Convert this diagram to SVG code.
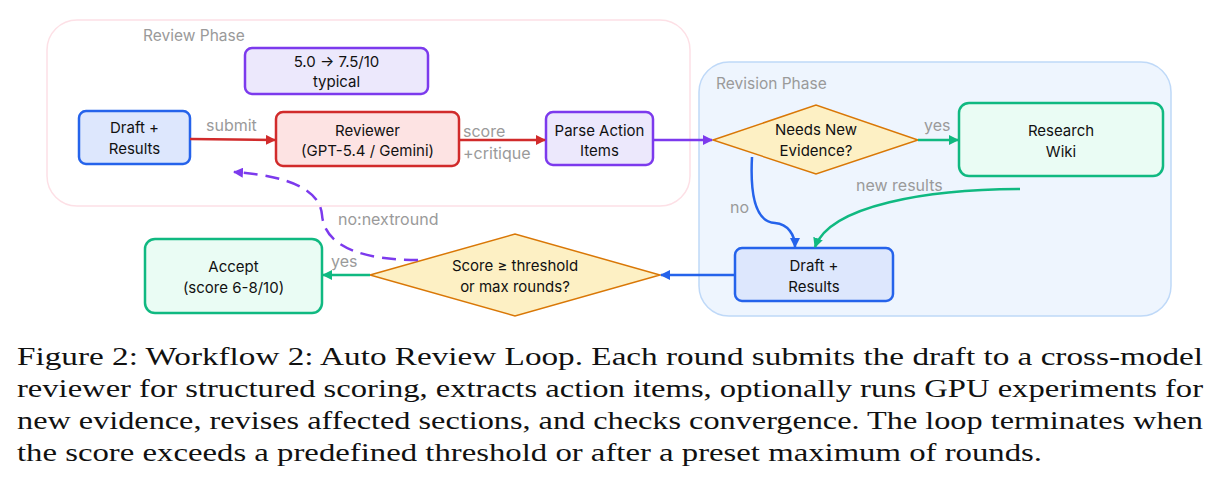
<svg xmlns="http://www.w3.org/2000/svg" width="1219" height="491" viewBox="0 0 1219 491">
<defs>
<style>
.t{font-family:Inter,"Noto Sans","Liberation Sans",sans-serif;font-size:15px;fill:#111;text-anchor:middle}
.lb{font-family:Inter,"Noto Sans","Liberation Sans",sans-serif;font-size:16px;fill:#9a9a9a}
.ph{font-family:Inter,"Noto Sans","Liberation Sans",sans-serif;font-size:15.5px;fill:#9a9a9a}
.cap{font-family:"Liberation Serif",serif;font-size:26px;fill:#111}
.blue{fill:#dde7fd;stroke:#2563eb;stroke-width:2.5}
.red{fill:#fde3e3;stroke:#d12b2b;stroke-width:2.5}
.pur{fill:#ece8fc;stroke:#7c3aed;stroke-width:2.5}
.grn{fill:#eafcf4;stroke:#10b981;stroke-width:2.5}
.dia{fill:#fdf0c4;stroke:#d97706;stroke-width:1.5}
.c{fill:none;stroke-width:2.5}
</style>
<marker id="aR" viewBox="0 0 10 10" refX="9" refY="5" markerWidth="4" markerHeight="4" orient="auto"><path d="M0,0L10,5L0,10z" fill="#d12b2b"/></marker>
<marker id="aP" viewBox="0 0 10 10" refX="9" refY="5" markerWidth="4" markerHeight="4" orient="auto"><path d="M0,0L10,5L0,10z" fill="#7c3aed"/></marker>
<marker id="aG" viewBox="0 0 10 10" refX="9" refY="5" markerWidth="4" markerHeight="4" orient="auto"><path d="M0,0L10,5L0,10z" fill="#10b981"/></marker>
<marker id="aB" viewBox="0 0 10 10" refX="9" refY="5" markerWidth="4" markerHeight="4" orient="auto"><path d="M0,0L10,5L0,10z" fill="#2563eb"/></marker>
</defs>
<rect width="1219" height="491" fill="#fff"/>
<g id="review-phase">
<rect x="47" y="20" width="643" height="186" rx="30" fill="#fff" stroke="#fde0e6" stroke-width="1.5"/>
<text class="ph" x="143" y="41">Review Phase</text>
</g>
<g id="revision-phase">
<rect x="699" y="62" width="472" height="254" rx="30" fill="#eef5fe" stroke="#bfd9f8" stroke-width="1.5"/>
<text class="ph" x="716" y="89">Revision Phase</text>
</g>
<g id="typical">
<rect class="pur" x="245" y="48" width="183" height="46" rx="7"/>
<text class="t" x="336.5" y="67">5.0 → 7.5/10</text>
<text class="t" x="336.5" y="87">typical</text>
</g>
<g id="draft1">
<rect class="blue" x="79" y="111" width="111" height="53" rx="7"/>
<text class="t" x="134.5" y="133">Draft +</text>
<text class="t" x="134.5" y="154">Results</text>
</g>
<g id="reviewer">
<rect class="red" x="276" y="112" width="183" height="54" rx="7"/>
<text class="t" x="367.5" y="136">Reviewer</text>
<text class="t" x="367.5" y="156">(GPT-5.4 / Gemini)</text>
</g>
<g id="parse">
<rect class="pur" x="546" y="112" width="107" height="53" rx="7"/>
<text class="t" x="599.5" y="136">Parse Action</text>
<text class="t" x="599.5" y="156">Items</text>
</g>
<g id="needs">
<polygon class="dia" points="713,140 816,105 918,140 816,174"/>
<text class="t" x="816" y="135">Needs New</text>
<text class="t" x="816" y="156">Evidence?</text>
</g>
<g id="research">
<rect class="grn" x="959" y="103" width="204" height="73" rx="10"/>
<text class="t" x="1061" y="136">Research</text>
<text class="t" x="1061" y="157">Wiki</text>
</g>
<g id="draft2">
<rect class="blue" x="735" y="248" width="158" height="53" rx="7"/>
<text class="t" x="814" y="271">Draft +</text>
<text class="t" x="814" y="292">Results</text>
</g>
<g id="score">
<polygon class="dia" points="370,275 515,234 660,275 515,316"/>
<text class="t" x="515" y="271">Score ≥ threshold</text>
<text class="t" x="515" y="292">or max rounds?</text>
</g>
<g id="accept">
<rect class="grn" x="145" y="239" width="177" height="74" rx="10"/>
<text class="t" x="233.5" y="272">Accept</text>
<text class="t" x="233.5" y="293">(score 6-8/10)</text>
</g>
<g id="connectors">
<path class="c" stroke="#d12b2b" d="M190,139 L275,140" marker-end="url(#aR)"/>
<text class="lb" x="206" y="131">submit</text>
<path class="c" stroke="#d12b2b" d="M459,140 L545,140" marker-end="url(#aR)"/>
<text class="lb" x="463" y="137">score</text>
<text class="lb" x="463" y="159">+critique</text>
<path class="c" stroke="#7c3aed" d="M653,140 L712,140" marker-end="url(#aP)"/>
<path class="c" stroke="#10b981" d="M918,140 L958,140" marker-end="url(#aG)"/>
<text class="lb" x="924" y="131">yes</text>
<path class="c" stroke="#2563eb" d="M752,157 C750,195 756,222 775,223 C788,224 795,235 795,247" marker-end="url(#aB)"/>
<text class="lb" x="730" y="213">no</text>
<path class="c" stroke="#10b981" d="M1020,189 C930,189 830,205 815,247" marker-end="url(#aG)"/>
<text class="lb" x="856" y="191">new results</text>
<path class="c" stroke="#2563eb" d="M735,275 L661,275" marker-end="url(#aB)"/>
<path class="c" stroke="#10b981" d="M370,275 L323,275" marker-end="url(#aG)"/>
<text class="lb" x="331" y="267">yes</text>
<path class="c" stroke="#7c3aed" stroke-dasharray="14,8" d="M418,260 C370,260 325,250 322,215 C320,190 290,176 234,172" marker-end="url(#aP)"/>
<text class="lb" x="338" y="225">no:nextround</text>
</g>
<g id="caption">
<text class="cap" x="17" y="365" textLength="1186" lengthAdjust="spacingAndGlyphs">Figure 2: Workflow 2: Auto Review Loop. Each round submits the draft to a cross-model</text>
<text class="cap" x="17" y="397" textLength="1186" lengthAdjust="spacingAndGlyphs">reviewer for structured scoring, extracts action items, optionally runs GPU experiments for</text>
<text class="cap" x="17" y="429" textLength="1186" lengthAdjust="spacingAndGlyphs">new evidence, revises affected sections, and checks convergence. The loop terminates when</text>
<text class="cap" x="17" y="461" textLength="1025" lengthAdjust="spacingAndGlyphs">the score exceeds a predefined threshold or after a preset maximum of rounds.</text>
</g>
</svg>
